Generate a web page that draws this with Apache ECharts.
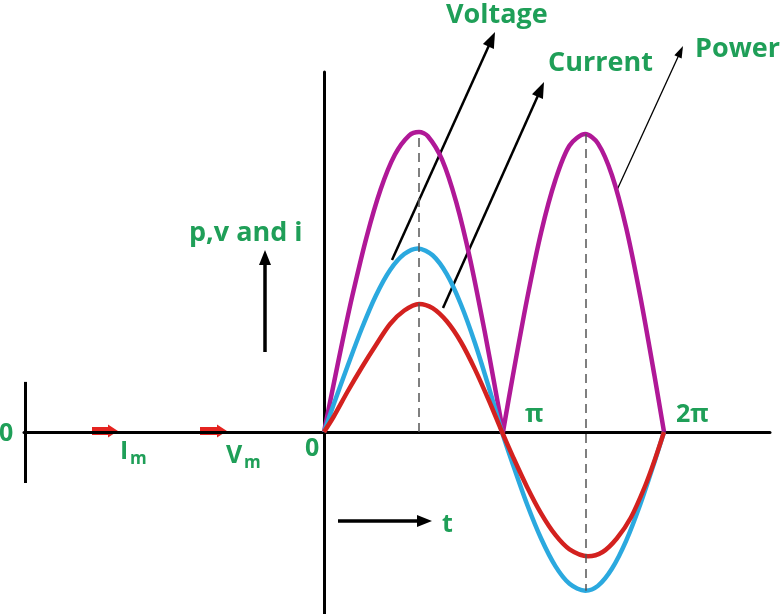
<!DOCTYPE html>
<html>
<head>
<meta charset="utf-8">
<script src="https://cdn.jsdelivr.net/npm/echarts@6/dist/echarts.min.js"></script>
<style>html,body{margin:0;padding:0;background:#fff;}#c{width:784px;height:614px;}</style>
</head>
<body>
<div id="c"></div>
<script>
// t in degrees (0 .. 360 = 0 .. 2π), values relative (power peak = 100)
const powerLobe1 = [[0,0],[10,15.6],[20,30.9],[30,45.4],[45,64.9],[60,80.9],[75,92.4],[90,98.8],[100.6,100],[110,98.6],[125,90.8],[140,76.6],[155,57.2],[170,33.7],[180,16.7],[189.5,0]];
const powerLobe2 = [[189.5,0],[200,18.8],[215,44.3],[230,66.7],[245,84],[260,95.5],[276.7,99.3],[290,96.2],[305,85.5],[320,68],[335,45],[350,18.6],[360,0]];
const voltage = [[0,0],[10,9],[25,22],[40,34.5],[55,45.5],[70,54],[85,59.3],[99.5,61.2],[115,58.9],[130,52.6],[145,42.5],[160,29.5],[175,14.4],[188.5,0],[200,-10.8],[215,-24.1],[230,-35.6],[245,-44.7],[260,-50.6],[276.7,-52.9],[290,-51.3],[305,-45.5],[320,-36.2],[335,-24],[350,-9.9],[360,0]];
const current = [[0,0],[10,5],[25,13.5],[40,21.5],[55,29],[70,36],[85,40.5],[100.6,42.7],[115,41.3],[130,36.9],[145,30],[160,20.8],[175,10.2],[188.5,0],[200,-8.2],[215,-18.3],[230,-27.2],[245,-34.3],[260,-39.1],[279.5,-41.4],[295,-40],[310,-35.5],[325,-28.5],[340,-18],[350,-9.5],[360,0]];
const peakGuides = [[[100.6,0],[100.6,100]],[[276.7,99.3],[276.7,-52.9]]];
const leftMarker = [[-316.6,16.7],[-316.6,-17]];

const GREEN = '#1f9f58';
const FONT = "'Open Sans', sans-serif";
const chart = echarts.init(document.getElementById('c'));

function arrow(x1,y1,x2,y2,lw,hl,hw,color){
  const dx=x2-x1, dy=y2-y1, L=Math.hypot(dx,dy), ux=dx/L, uy=dy/L;
  const bx=x2-ux*hl, by=y2-uy*hl, px=-uy, py=ux;
  return [
    {type:'line', shape:{x1:x1,y1:y1,x2:bx+ux,y2:by+uy}, style:{stroke:color,lineWidth:lw}},
    {type:'polygon', shape:{points:[[x2,y2],[bx+px*hw/2,by+py*hw/2],[bx-px*hw/2,by-py*hw/2]]}, style:{fill:color}}
  ];
}
function blockArrow(x1,x2,y,color){
  const xh=x2-10;
  return {type:'polygon', shape:{points:[[x1,y-4],[xh,y-4],[xh,y-6.5],[x2,y],[xh,y+6.5],[xh,y+4],[x1,y+4]]}, style:{fill:color}};
}
function txt(s,x,y,size){
  return {type:'text', style:{text:s,x:x,y:y,font:'bold '+size+'px '+FONT,fill:GREEN,verticalAlign:'middle',align:'left'}};
}

const graphics = [].concat(
  arrow(392,260,495,32,2.5,16,12,'#000'),
  arrow(443,308,544,82,2.5,16,12,'#000'),
  arrow(617,190,683,46,1.3,12,8,'#000'),
  arrow(265,352,265,250,3.5,15,12,'#000'),
  arrow(338,521,432,521,3.5,15,12,'#000'),
  [blockArrow(92,118,431,'#e52420'), blockArrow(200,227,431,'#e52420')],
  [
    txt('Voltage',446,15,27),
    txt('Current',548,63,27),
    txt('Power',695,49,27),
    txt('p,v and i',189,233,27),
    txt('I',120,452,25),
    txt('m',130,459,17),
    txt('V',226,456,25),
    txt('m',244,463,17),
    txt('π',525,415,25),
    txt('2π',676,415,25),
    txt('0',305,449,25),
    txt('0',-1,434,25),
    txt('t',442,525,25)
  ]
);

const lineSeries = (name,data,color) => ({
  type:'line', name:name, data:data, smooth:0.3, symbol:'none', clip:false,
  lineStyle:{color:color,width:4.5}, itemStyle:{color:color}, z:3
});

chart.setOption({
  animation:false,
  backgroundColor:'#fff',
  grid:{left:24,right:14,top:72,bottom:0},
  xAxis:{type:'value',min:-317.65,max:472.24,
    axisLine:{onZero:true,lineStyle:{color:'#000',width:3}},
    axisTick:{show:false},axisLabel:{show:false},splitLine:{show:false}},
  yAxis:{type:'value',min:-60.67,max:120,
    axisLine:{show:true,onZero:true,lineStyle:{color:'#000',width:3}},
    axisTick:{show:false},axisLabel:{show:false},splitLine:{show:false}},
  series:[
    Object.assign(lineSeries('Power',powerLobe1,'#b01897'),{
      markLine:{silent:true,symbol:['none','none'],label:{show:false},
        lineStyle:{color:'#555',type:[9,6],width:1.5},
        data:peakGuides.map(p=>[{coord:p[0]},{coord:p[1]}])}
    }),
    lineSeries('Power',powerLobe2,'#b01897'),
    Object.assign(lineSeries('Voltage',voltage,'#2ba9df'),{
      markLine:{silent:true,symbol:['none','none'],label:{show:false},
        lineStyle:{color:'#000',type:'solid',width:3},
        data:[[{coord:leftMarker[0]},{coord:leftMarker[1]}]]}
    }),
    lineSeries('Current',current,'#d3211f')
  ],
  graphic:graphics
});
</script>
</body>
</html>
